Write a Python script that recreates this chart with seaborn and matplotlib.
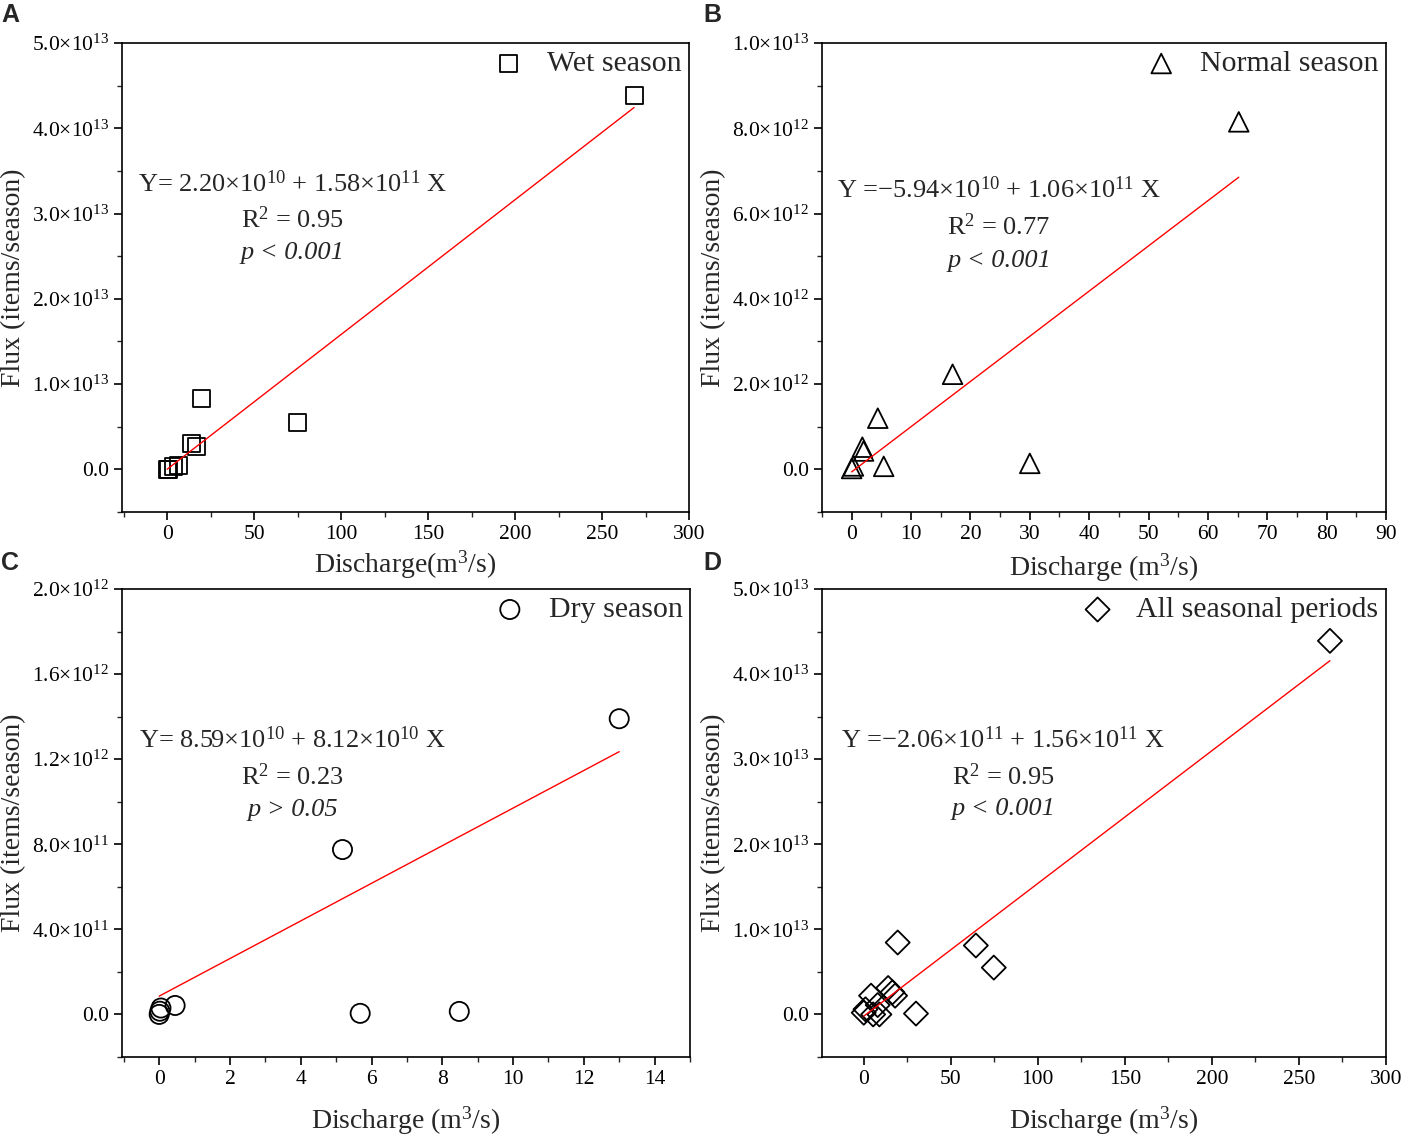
import numpy as np
import pandas as pd
import matplotlib
matplotlib.use('Agg')
import matplotlib.pyplot as plt
import seaborn as sns
from matplotlib.ticker import MultipleLocator, AutoMinorLocator, FuncFormatter

# Wet season (A)
wet_q = [0.0, 0.5, 3.5, 6.5, 13.8, 16.7, 19.5, 74.7, 268.4]
wet_flux = [0.0, 0.003e13, 0.03e13, 0.05e13, 0.30e13, 0.27e13, 0.83e13, 0.55e13, 4.38e13]

# Normal season (B)
normal_q = [0.0, 0.3, 1.8, 2.0, 4.4, 5.4, 17.0, 30.0, 65.2]
normal_flux = [0.02e12, 0.08e12, 0.52e12, 0.43e12, 1.20e12, 0.07e12, 2.23e12, 0.14e12, 8.15e12]

# Dry season (C)
dry_q = [0.0, 0.02, 0.05, 0.45, 5.18, 5.68, 8.48, 13.0]
dry_flux = [0.0, 0.015e12, 0.03e12, 0.042e12, 0.775e12, 0.005e12, 0.014e12, 1.39e12]

# All seasonal periods (D)
all_q = [0.0, 1.0, 4.2, 5.4, 8.0, 9.0, 14.0, 16.5, 18.0, 19.5, 30.0, 64.4, 74.7, 267.8]
all_flux = [0.02e13, 0.06e13, 0.22e13, 0.0, 0.11e13, 0.0, 0.31e13, 0.26e13, 0.22e13,
            0.845e13, 0.01e13, 0.81e13, 0.55e13, 4.39e13]

# fitted lines: intercept, slope, max discharge
fit_intercept = [2.20e10, -5.94e10, 8.59e10, -2.06e11]
fit_slope = [1.58e11, 1.06e11, 8.84e10, 1.56e11]
fit_xmax = [268.4, 65.2, 13.0, 267.8]

eq_text = [
    'Y= 2.20×10$^{10}$ + 1.58×10$^{11}$ X',
    'Y =−5.94×10$^{10}$ + 1.06×10$^{11}$ X',
    'Y= 8.59×10$^{10}$ + 8.12×10$^{10}$ X',
    'Y =−2.06×10$^{11}$ + 1.56×10$^{11}$ X',
]
r2_text = ['R$^{2}$ = 0.95', 'R$^{2}$ = 0.77', 'R$^{2}$ = 0.23', 'R$^{2}$ = 0.95']
p_text = ['p < 0.001', 'p < 0.001', 'p > 0.05', 'p < 0.001']
season_names = ['Wet season', 'Normal season', 'Dry season', 'All seasonal periods']
markers = ['s', '^', 'o', 'D']
marker_sizes = [150, 200, 190, 150]
x_labels = ['Discharge(m$^{3}$/s)', 'Discharge (m$^{3}$/s)',
            'Discharge (m$^{3}$/s)', 'Discharge (m$^{3}$/s)']
panel_letters = ['A', 'B', 'C', 'D']

sns.set_theme(style='ticks')
plt.rcParams['font.family'] = ['Liberation Serif', 'DejaVu Serif']
plt.rcParams['mathtext.fontset'] = 'custom'
plt.rcParams['mathtext.rm'] = 'Liberation Serif'
plt.rcParams['mathtext.it'] = 'Liberation Serif:italic'
plt.rcParams['axes.linewidth'] = 1.2
plt.rcParams['axes.edgecolor'] = 'black'


def sci_fmt(v, pos):
    if abs(v) < 1.0:
        return '0.0'
    exp = int(np.floor(np.log10(abs(v)) + 1e-9))
    mant = v / 10 ** exp
    return f'{mant:.1f}×10$^{{{exp}}}$'


fig = plt.figure(figsize=(14.01, 11.37), dpi=100)

# axes boxes [left, bottom, width, height] in figure fraction
boxes = [
    [0.0871, 0.5497, 0.4047, 0.4125],
    [0.5867, 0.5497, 0.4026, 0.4125],
    [0.0871, 0.0704, 0.4054, 0.4116],
    [0.5867, 0.0704, 0.4026, 0.4116],
]
xlims = [(-26, 300), (-5, 90), (-1.05, 15), (-24, 300)]
ylims = [(-0.5e13, 5e13), (-1e12, 1e13), (-2e11, 2e12), (-0.5e13, 5e13)]
x_major = [50, 10, 2, 50]
y_major = [1e13, 2e12, 4e11, 1e13]
x_labelpad = [3, 5, 11, 11]
text_x = [0.30, 0.314, 0.30, 0.321]
text_y = [(0.70, 0.623, 0.552), (0.687, 0.608, 0.535),
          (0.677, 0.60, 0.528), (0.677, 0.60, 0.53)]
letter_pos = [(0.001, 0.987), (0.502, 0.987), (0.001, 0.505), (0.502, 0.505)]

data = [(wet_q, wet_flux), (normal_q, normal_flux), (dry_q, dry_flux), (all_q, all_flux)]

for i, (q, flux) in enumerate(data):
    ax = fig.add_axes(boxes[i])
    df = pd.DataFrame({'q': q, 'flux': flux})
    sns.scatterplot(data=df, x='q', y='flux', marker=markers[i], s=marker_sizes[i],
                    facecolor='none', edgecolor='black', linewidth=1.3,
                    label=season_names[i], ax=ax, zorder=2)
    xfit = np.linspace(0, fit_xmax[i], 50)
    yfit = fit_intercept[i] + fit_slope[i] * xfit
    sns.lineplot(x=xfit, y=yfit, color='red', linewidth=1.0, ax=ax, zorder=3)

    ax.set_xlim(*xlims[i])
    ax.set_ylim(*ylims[i])
    ax.xaxis.set_major_locator(MultipleLocator(x_major[i]))
    ax.xaxis.set_minor_locator(AutoMinorLocator(2))
    ax.yaxis.set_major_locator(MultipleLocator(y_major[i]))
    ax.yaxis.set_minor_locator(AutoMinorLocator(2))
    ax.yaxis.set_major_formatter(FuncFormatter(sci_fmt))
    ax.tick_params(which='major', direction='out', length=6, width=1.2, labelsize=15.5,
                   colors='black')
    ax.tick_params(which='minor', direction='out', length=3.5, width=1.0)
    for s in ax.spines.values():
        s.set_visible(True)
        s.set_color('black')

    ax.set_xlabel(x_labels[i], fontsize=20, labelpad=x_labelpad[i])
    ax.set_ylabel('Flux (items/season)', fontsize=20, labelpad=4)

    tx = text_x[i]
    ty = text_y[i]
    ax.text(tx, ty[0], eq_text[i], transform=ax.transAxes, ha='center', va='center',
            fontsize=19)
    ax.text(tx, ty[1], r2_text[i], transform=ax.transAxes, ha='center', va='center',
            fontsize=19)
    ax.text(tx, ty[2], p_text[i], transform=ax.transAxes, ha='center', va='center',
            fontsize=19, style='italic')

    ax.legend(loc='upper right', frameon=False, fontsize=21.5, handletextpad=0.3,
              borderaxespad=0.1, borderpad=0.15)

    fig.text(letter_pos[i][0], letter_pos[i][1], panel_letters[i], fontsize=18,
             fontweight='bold', family='Liberation Sans', ha='left', va='center')

fig.savefig('out.png', dpi=100)
